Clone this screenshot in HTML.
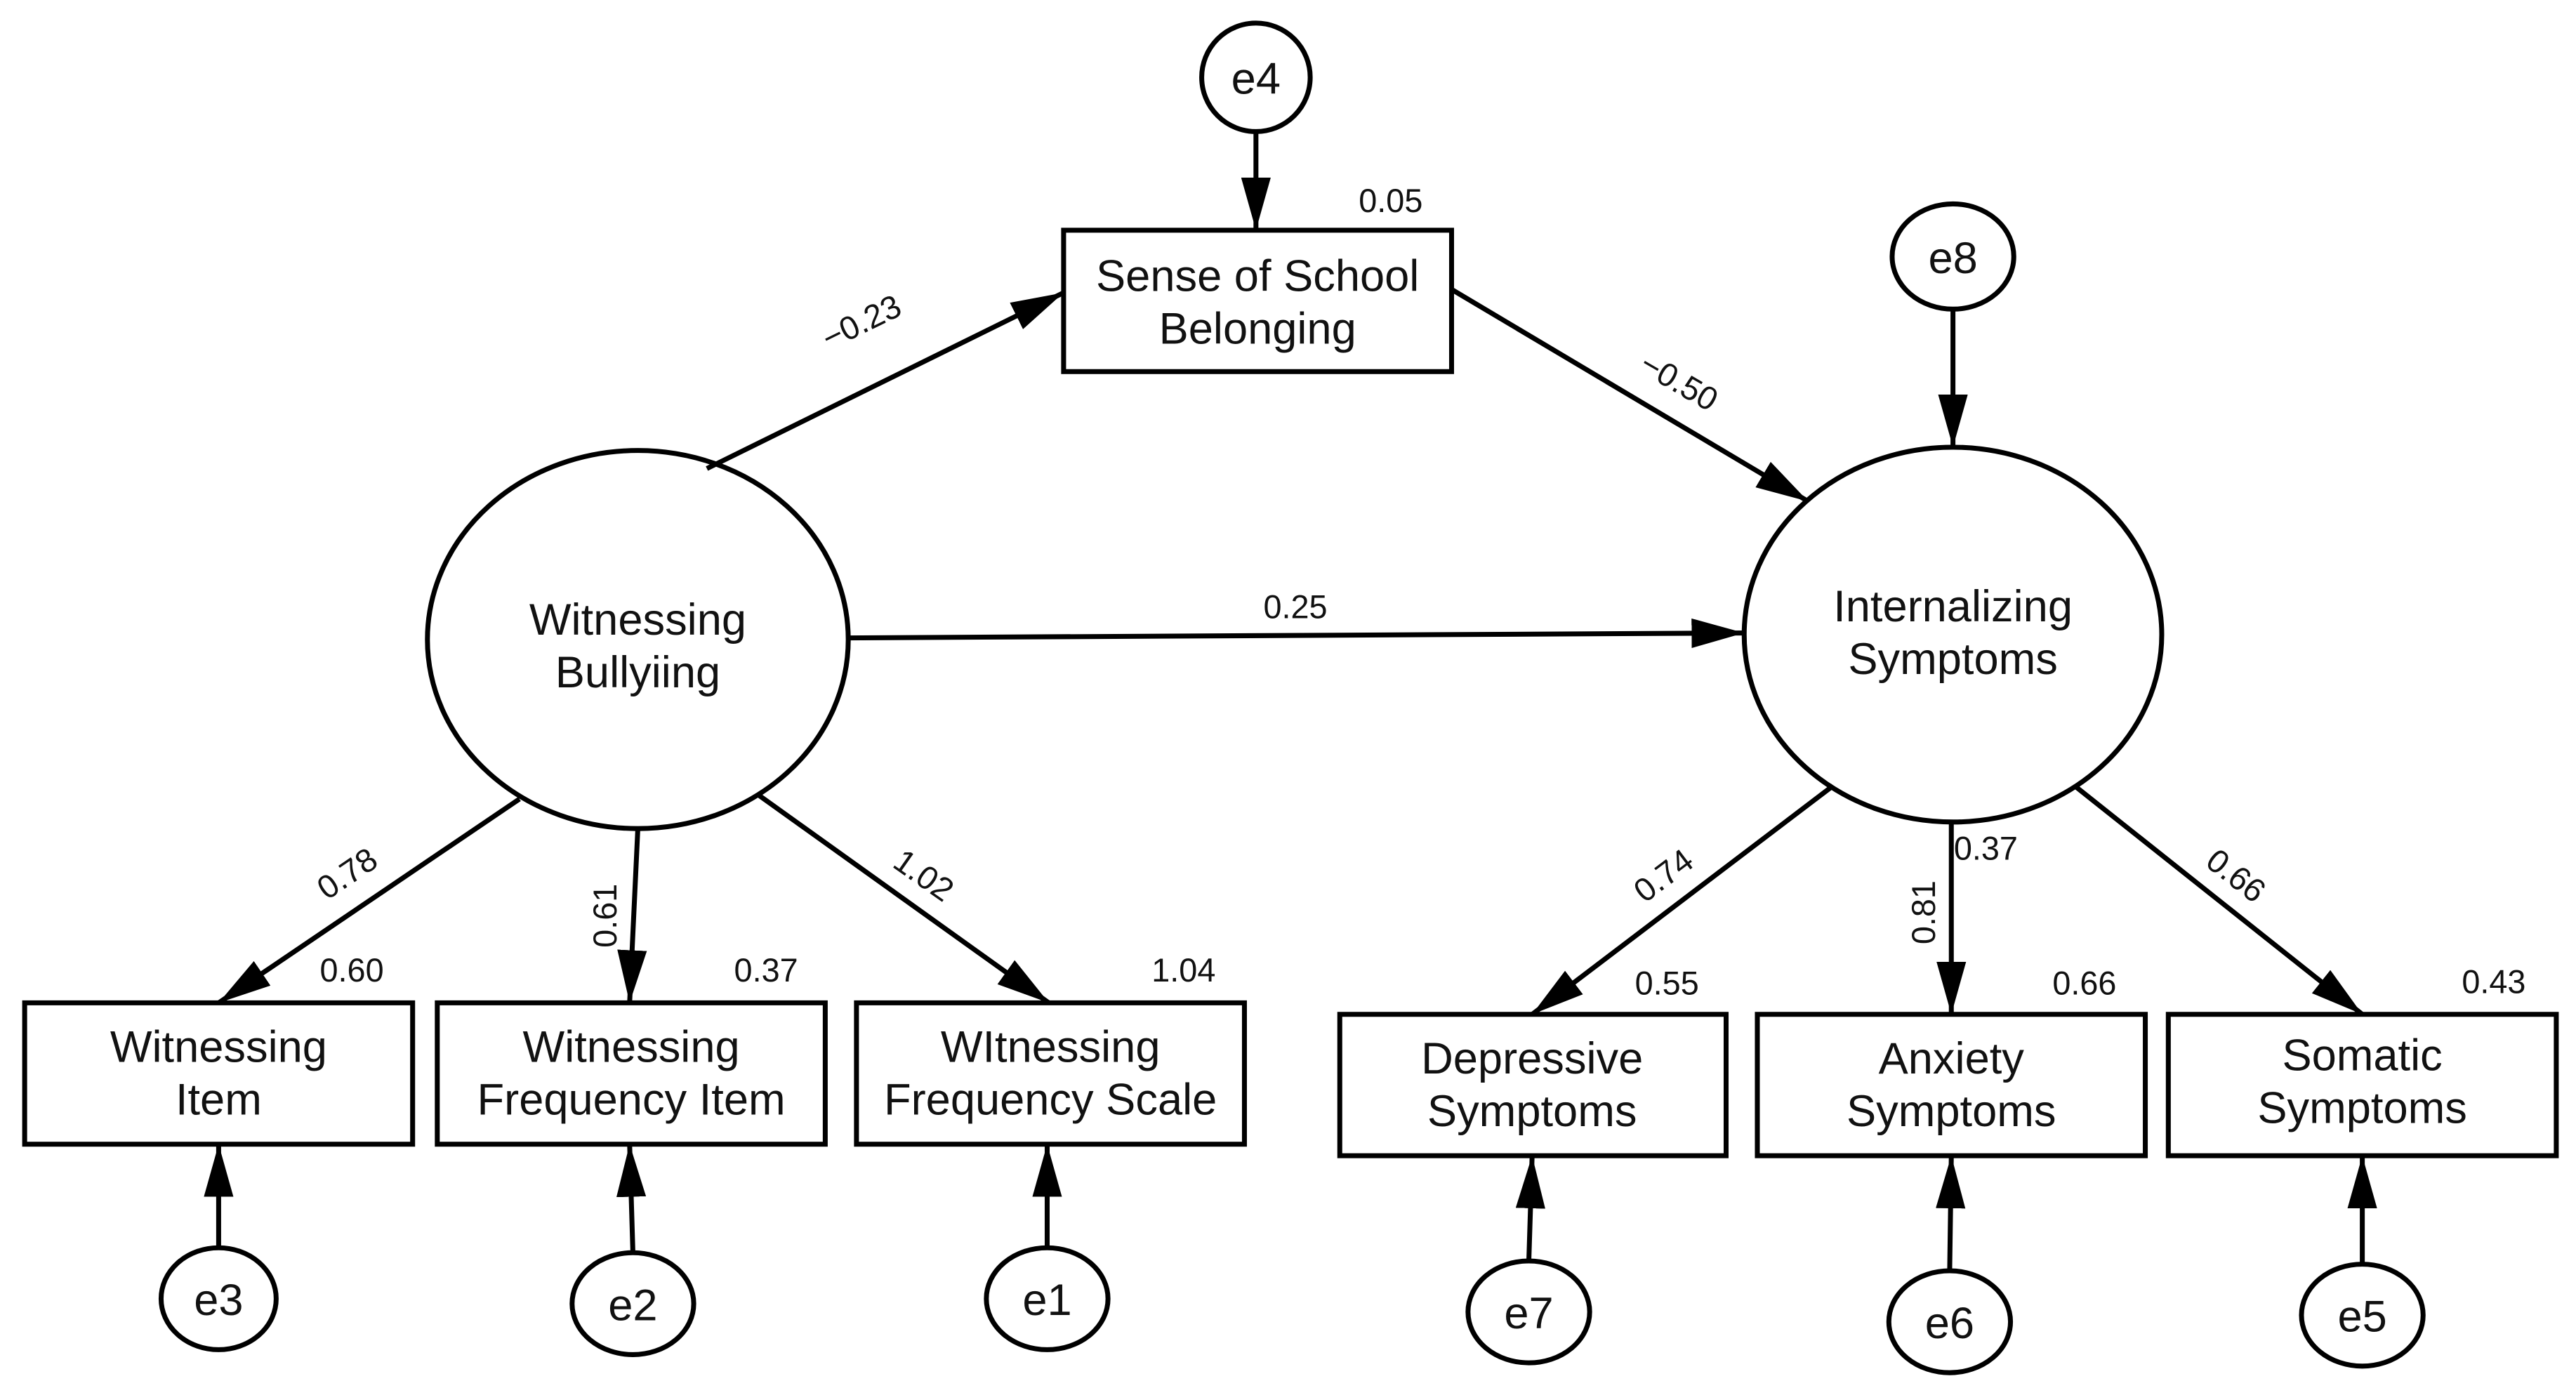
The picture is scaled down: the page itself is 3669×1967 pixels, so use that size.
<!DOCTYPE html>
<html><head><meta charset="utf-8"><style>html,body{margin:0;padding:0;background:#fff;}svg{display:block;}</style></head>
<body>
<svg width="3669" height="1967" viewBox="0 0 1567 840" xmlns="http://www.w3.org/2000/svg" font-family="Liberation Sans, Arial, sans-serif">
<defs>
<marker id="b" markerWidth="32" markerHeight="18" refX="32" refY="9" orient="auto" markerUnits="userSpaceOnUse" viewBox="0 0 32 18">
<path d="M0,0 L32,9 L0,18 z" fill="#000"/>
</marker>
</defs>
<g fill="none" stroke="#000" stroke-width="3">
<ellipse cx="764" cy="47" rx="33" ry="33"/>
<ellipse cx="1188" cy="156" rx="37" ry="32"/>
<ellipse cx="388" cy="389" rx="128" ry="115"/>
<ellipse cx="1188" cy="386" rx="127" ry="114"/>
<rect x="647" y="140" width="236" height="86"/>
<rect x="15" y="610" width="236" height="86"/>
<rect x="266" y="610" width="236" height="86"/>
<rect x="521" y="610" width="236" height="86"/>
<rect x="815" y="617" width="235" height="86"/>
<rect x="1069" y="617" width="236" height="86"/>
<rect x="1319" y="617" width="236" height="86"/>
<ellipse cx="133" cy="790" rx="35" ry="31"/>
<ellipse cx="385" cy="793" rx="37" ry="31"/>
<ellipse cx="637" cy="790" rx="37" ry="31"/>
<ellipse cx="930" cy="798" rx="37" ry="31"/>
<ellipse cx="1186" cy="804" rx="37" ry="31"/>
<ellipse cx="1437" cy="800" rx="37" ry="31"/>
</g>
<g stroke="#000" stroke-width="3" marker-end="url(#b)">
<line x1="764" y1="80" x2="764" y2="140"/>
<line x1="1188" y1="188" x2="1188" y2="272"/>
<line x1="430" y1="285" x2="647" y2="178"/>
<line x1="883" y1="176" x2="1100" y2="305"/>
<line x1="515" y1="388" x2="1061" y2="385"/>
<line x1="316" y1="486" x2="133" y2="610"/>
<line x1="388" y1="504" x2="383" y2="610"/>
<line x1="462" y1="484" x2="638" y2="610"/>
<line x1="1115" y1="478" x2="932" y2="617"/>
<line x1="1187" y1="500" x2="1187" y2="617"/>
<line x1="1262" y1="478" x2="1437" y2="617"/>
<line x1="133" y1="759" x2="133" y2="696"/>
<line x1="385" y1="762" x2="383" y2="696"/>
<line x1="637" y1="759" x2="637" y2="696"/>
<line x1="930" y1="767" x2="932" y2="703"/>
<line x1="1186" y1="773" x2="1187" y2="703"/>
<line x1="1437" y1="769" x2="1437" y2="703"/>
</g>
<g font-size="27" text-anchor="middle" fill="#111">
<text x="764" y="57">e4</text>
<text x="1188" y="166">e8</text>
<text x="133" y="800">e3</text>
<text x="385" y="803">e2</text>
<text x="637" y="800">e1</text>
<text x="930" y="808">e7</text>
<text x="1186" y="814">e6</text>
<text x="1437" y="810">e5</text>
<text x="765" y="177">Sense of School</text>
<text x="765" y="209">Belonging</text>
<text x="388" y="386">Witnessing</text>
<text x="388" y="418">Bullyiing</text>
<text x="1188" y="378">Internalizing</text>
<text x="1188" y="410">Symptoms</text>
<text x="133" y="646">Witnessing</text>
<text x="133" y="678">Item</text>
<text x="384" y="646">Witnessing</text>
<text x="384" y="678">Frequency Item</text>
<text x="639" y="646">WItnessing</text>
<text x="639" y="678">Frequency Scale</text>
<text x="932" y="653">Depressive</text>
<text x="932" y="685">Symptoms</text>
<text x="1187" y="653">Anxiety</text>
<text x="1187" y="685">Symptoms</text>
<text x="1437" y="651">Somatic</text>
<text x="1437" y="683">Symptoms</text>
</g>
<g font-size="20" text-anchor="middle" fill="#111">
<text x="846" y="129">0.05</text>
<text x="788" y="376">0.25</text>
<text x="214" y="597">0.60</text>
<text x="466" y="597">0.37</text>
<text x="720" y="597">1.04</text>
<text x="1014" y="605">0.55</text>
<text x="1268" y="605">0.66</text>
<text x="1517" y="604">0.43</text>
<text x="1208" y="523">0.37</text>
<text transform="translate(527,202) rotate(-26)">−0.23</text>
<text transform="translate(1018,238) rotate(30)">−0.50</text>
<text transform="translate(215,537) rotate(-34)">0.78</text>
<text transform="translate(375,557) rotate(-90)">0.61</text>
<text transform="translate(558,538) rotate(35)">1.02</text>
<text transform="translate(1016,538) rotate(-37)">0.74</text>
<text transform="translate(1177,555) rotate(-90)">0.81</text>
<text transform="translate(1356,538) rotate(38)">0.66</text>
</g>
</svg>
</body></html>
